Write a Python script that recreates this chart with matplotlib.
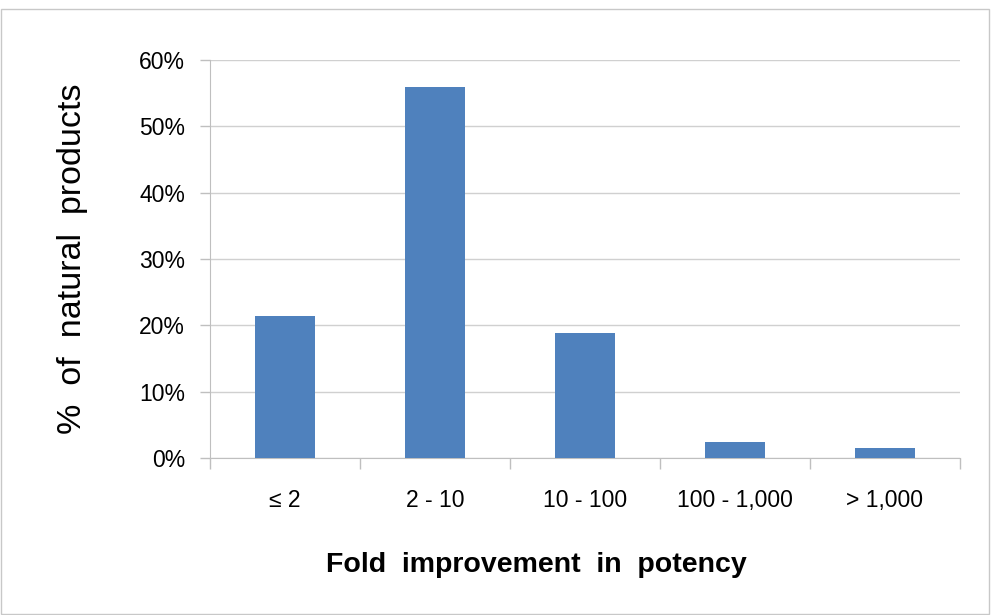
import numpy as np
import matplotlib
matplotlib.use("Agg")
import matplotlib.pyplot as plt
from matplotlib.patches import Rectangle

plt.rcParams["font.family"] = ["Liberation Sans", "DejaVu Sans"]

categories = ["\u2264 2", "2 - 10", "10 - 100", "100 - 1,000", "> 1,000"]
percent = [21.4, 56.0, 18.9, 2.4, 1.5]
yticks = [0, 10, 20, 30, 40, 50, 60]

fig = plt.figure(figsize=(9.92, 6.15), dpi=100)
ax = fig.add_axes([210 / 992, 1 - 458 / 615, 750 / 992, 398 / 615])

x = np.arange(len(categories))
ax.bar(x, percent, width=0.4, color="#4f81bd", zorder=3)

ax.set_xlim(-0.5, len(categories) - 0.5)
ax.set_ylim(0, 60)
ax.set_yticks(yticks)
ax.set_yticklabels([f"{v}%" for v in yticks], fontsize=16.5)
ax.set_xticks(x)
ax.set_xticklabels(categories, fontsize=16.5)
ax.set_xticks(np.arange(-0.5, len(categories)), minor=True)
ax.tick_params(axis="x", which="major", length=0, pad=22)
ax.tick_params(axis="x", which="minor", length=8, color="#bfbfbf", width=1)
ax.tick_params(axis="y", length=7, color="#bfbfbf", width=1, pad=11)

ax.grid(axis="y", color="#d0d0d0", lw=1, zorder=0)
for s in ("top", "right"):
    ax.spines[s].set_visible(False)
ax.spines["left"].set_color("#bfbfbf")
ax.spines["bottom"].set_color("#bfbfbf")

ax.set_ylabel("%  of  natural  products", fontsize=24.5, labelpad=37)
ax.set_xlabel("Fold  improvement  in  potency", fontsize=20.5, fontweight="bold", labelpad=29)
ax.xaxis.label.set_x(0.435)

fig.patches.append(Rectangle((0.001, 0.002), 0.996, 0.984, transform=fig.transFigure,
                             fill=False, edgecolor="#c8c8c8", lw=1))

fig.savefig("out.png", dpi=100)
